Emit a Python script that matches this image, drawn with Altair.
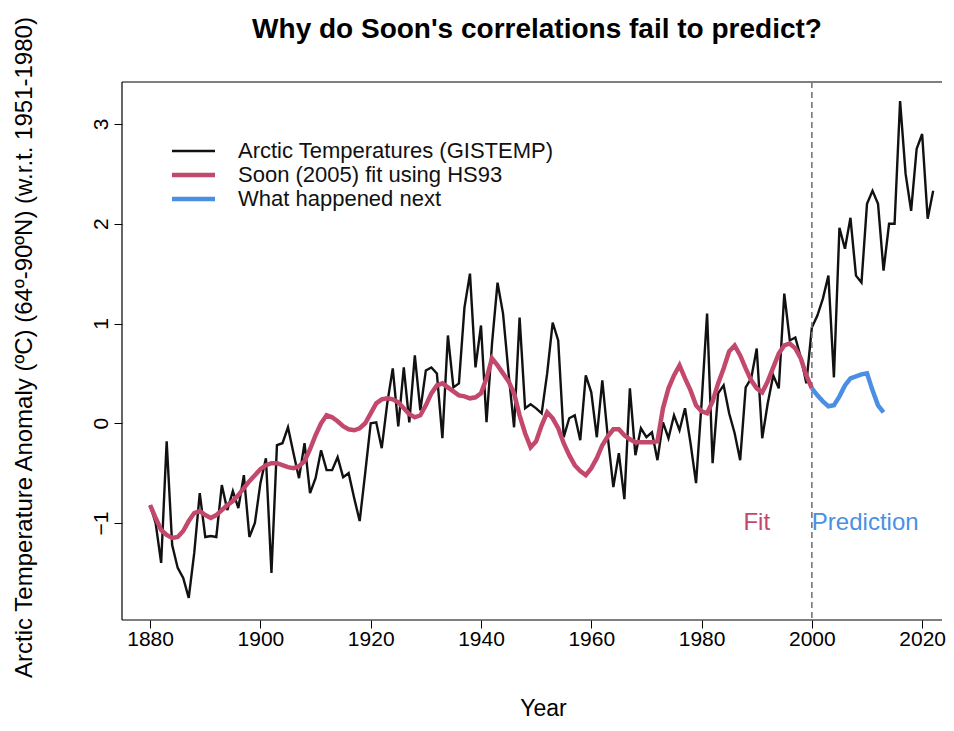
import altair as alt
import pandas as pd

# ---------------- data ----------------
years_obs = list(range(1880, 2023))
arctic_temp = [
    -0.82, -1.00, -1.40, -0.18, -1.22, -1.45, -1.55, -1.75, -1.30, -0.70,   # 1880-1889
    -1.14, -1.13, -1.14, -0.62, -0.87, -0.68, -0.85, -0.52, -1.14, -1.00,   # 1890-1899
    -0.60, -0.35, -1.50, -0.22, -0.20, -0.04, -0.30, -0.55, -0.20, -0.70,   # 1900-1909
    -0.55, -0.27, -0.47, -0.47, -0.34, -0.54, -0.50, -0.75, -0.98, -0.50,   # 1910-1919
     0.00,  0.01, -0.25,  0.20,  0.55, -0.03,  0.56,  0.01,  0.68,  0.13,   # 1920-1929
     0.53,  0.56,  0.50, -0.15,  0.88,  0.36,  0.40,  1.16,  1.50,  0.56,   # 1930-1939
     0.98,  0.01,  0.80,  1.41,  1.10,  0.50, -0.04,  1.06,  0.15,  0.19,   # 1940-1949
     0.15,  0.10,  0.50,  1.01,  0.83, -0.14,  0.05,  0.08, -0.17,  0.48,   # 1950-1959
     0.31, -0.14,  0.43, -0.14, -0.64, -0.30, -0.76,  0.35, -0.32, -0.05,   # 1960-1969
    -0.14, -0.09, -0.37,  0.01, -0.15,  0.08, -0.07,  0.15, -0.20, -0.60,   # 1970-1979
     0.20,  1.10, -0.40,  0.30,  0.38,  0.10, -0.10, -0.37,  0.36,  0.45,   # 1980-1989
     0.75, -0.15,  0.20,  0.48,  0.35,  1.30,  0.83,  0.86,  0.66,  0.40,   # 1990-1999
     0.96,  1.08,  1.25,  1.48,  0.46,  1.96,  1.75,  2.06,  1.48,  1.41,   # 2000-2009
     2.20,  2.33,  2.20,  1.53,  2.00,  2.00,  3.23,  2.50,  2.13,  2.75,   # 2010-2019
     2.90,  2.05,  2.33,                                                    # 2020-2022
]

years_fit = list(range(1880, 2001))
soon_fit = [
    -0.82, -0.95, -1.07, -1.12, -1.15, -1.14, -1.08, -0.98, -0.90, -0.88,   # 1880-1889
    -0.92, -0.95, -0.92, -0.87, -0.82, -0.78, -0.72, -0.65, -0.58, -0.52,   # 1890-1899
    -0.46, -0.42, -0.40, -0.40, -0.42, -0.44, -0.45, -0.43, -0.38, -0.26,   # 1900-1909
    -0.12,  0.00,  0.08,  0.06,  0.02, -0.03, -0.06, -0.07, -0.05,  0.00,   # 1910-1919
     0.10,  0.20,  0.24,  0.25,  0.24,  0.21,  0.15,  0.09,  0.06,  0.08,   # 1920-1929
     0.18,  0.30,  0.38,  0.40,  0.36,  0.32,  0.28,  0.27,  0.25,  0.26,   # 1930-1939
     0.30,  0.45,  0.65,  0.58,  0.50,  0.42,  0.30,  0.08, -0.10, -0.24,   # 1940-1949
    -0.18, -0.02,  0.11,  0.05, -0.05, -0.20, -0.32, -0.42, -0.48, -0.52,   # 1950-1959
    -0.45, -0.35, -0.22, -0.13, -0.06, -0.06, -0.12, -0.16, -0.19, -0.19,   # 1960-1969
    -0.19, -0.19, -0.18,  0.15,  0.35,  0.48,  0.58,  0.45,  0.33,  0.18,   # 1970-1979
     0.12,  0.10,  0.22,  0.40,  0.55,  0.72,  0.78,  0.68,  0.55,  0.43,   # 1980-1989
     0.35,  0.31,  0.42,  0.56,  0.70,  0.78,  0.80,  0.75,  0.65,  0.48,   # 1990-1999
     0.35,                                                                  # 2000
]

years_next = list(range(2000, 2014))
what_next = [0.35, 0.28, 0.22, 0.17, 0.18, 0.27, 0.38, 0.45, 0.47, 0.49,
             0.50, 0.33, 0.18, 0.11]

chart_title = "Why do Soon's correlations fail to predict?"
legend_labels = ["Arctic Temperatures (GISTEMP)", "Soon (2005) fit using HS93",
                 "What happened next"]
x_ticks = [1880, 1900, 1920, 1940, 1960, 1980, 2000, 2020]
y_ticks = [-1, 0, 1, 2, 3]
split_year = [2000]
annot_x = [1990, 2000]
annot_y = [-1.0, -1.0]
annot_text = ["Fit", "Prediction"]

# ---------------- style ----------------
FONT = "Liberation Sans"
BLACK = "#111111"
PINK = "#c3496c"
BLUE = "#4a8fe4"
W, H = 820, 538

xscale = alt.Scale(domain=[1874.9, 2023.6], nice=False, zero=False)
yscale = alt.Scale(domain=[-1.972, 3.421], nice=False, zero=False)

df_obs = pd.DataFrame({"year": years_obs, "value": arctic_temp})
df_fit = pd.DataFrame({"year": years_fit, "value": soon_fit})
df_next = pd.DataFrame({"year": years_next, "value": what_next})

xaxis = alt.Axis(values=x_ticks, format="d", grid=False, domain=False,
                 tickSize=8, tickColor="black", tickWidth=1,
                 labelFont=FONT, labelFontSize=21, labelColor="black",
                 labelPadding=0, labelBaseline="top",
                 title="Year", titleFont=FONT, titleFontSize=23,
                 titleFontWeight="normal", titleColor="black",
                 titleX=421, titleY=88, titleBaseline="middle", titleAlign="center")
yaxis = alt.Axis(values=y_ticks, format="d", grid=False, domain=False,
                 tickSize=8, tickColor="black", tickWidth=1,
                 labelFont=FONT, labelFontSize=21, labelColor="black",
                 labelAngle=270, labelAlign="center", labelBaseline="bottom",
                 labelPadding=3,
                 title="Arctic Temperature Anomaly (ºC) (64º-90ºN) (w.r.t. 1951-1980)",
                 titleFont=FONT, titleFontSize=24, titleFontWeight="normal",
                 titleColor="black", titleAngle=270, titleX=-98, titleY=265,
                 titleAlign="center", titleBaseline="middle")

X = alt.X("year:Q", scale=xscale)
Y = alt.Y("value:Q", scale=yscale)

black_line = alt.Chart(df_obs).mark_line(color=BLACK, strokeWidth=2.4).encode(
    x=alt.X("year:Q", scale=xscale, axis=xaxis),
    y=alt.Y("value:Q", scale=yscale, axis=yaxis),
)
pink_line = alt.Chart(df_fit).mark_line(color=PINK, strokeWidth=4.5).encode(x=X, y=Y)
blue_line = alt.Chart(df_next).mark_line(color=BLUE, strokeWidth=4.5).encode(x=X, y=Y)

vline = alt.Chart(pd.DataFrame({"year": split_year})).mark_rule(
    color="#777777", strokeWidth=1.6, strokeDash=[6, 4]).encode(
    x=X, y=alt.value(0), y2=alt.value(H),
)

df_ann = pd.DataFrame({"year": annot_x, "value": annot_y, "t": annot_text})
fit_txt = alt.Chart(df_ann.iloc[[0]]).mark_text(
    font=FONT, fontSize=24, color=PINK, align="center", baseline="middle").encode(
    x=X, y=Y, text="t:N")
pred_txt = alt.Chart(df_ann.iloc[[1]]).mark_text(
    font=FONT, fontSize=24, color=BLUE, align="left", baseline="middle").encode(
    x=X, y=Y, text="t:N")

# frame (left, top, bottom; the right edge lies outside the picture)
frame_top = alt.Chart().mark_rule(color="black", strokeWidth=1.2).encode(
    x=alt.value(0), x2=alt.value(W), y=alt.value(0))
frame_bot = alt.Chart().mark_rule(color="black", strokeWidth=1.2).encode(
    x=alt.value(0), x2=alt.value(W), y=alt.value(H))
frame_left = alt.Chart().mark_rule(color="black", strokeWidth=1.2).encode(
    x=alt.value(0), y=alt.value(0), y2=alt.value(H))

# chart title as a text mark above the plot
title_txt = alt.Chart().mark_text(
    text=chart_title, font=FONT, fontSize=28, fontWeight="bold", color="black",
    align="center", baseline="middle").encode(x=alt.value(415), y=alt.value(-52))

# manual legend
legend_layers = []
leg_colors = [BLACK, PINK, BLUE]
leg_widths = [2.4, 4.5, 4.5]
leg_rows = [69, 93, 117]
for lab, col, lw, yy in zip(legend_labels, leg_colors, leg_widths, leg_rows):
    legend_layers.append(alt.Chart().mark_rule(color=col, strokeWidth=lw).encode(
        x=alt.value(50), x2=alt.value(93), y=alt.value(yy)))
    legend_layers.append(alt.Chart().mark_text(
        text=lab, font=FONT, fontSize=22, color="#111111", align="left",
        baseline="middle").encode(x=alt.value(116), y=alt.value(yy)))

chart = alt.layer(
    black_line, frame_top, frame_bot, frame_left, vline, pink_line, blue_line,
    fit_txt, pred_txt, title_txt, *legend_layers,
).properties(
    width=W, height=H,
    autosize=alt.AutoSizeParams(type="none"),
    padding={"left": 114, "top": 74, "right": 4, "bottom": 103},
).configure_view(strokeWidth=0)

chart.save("out.html", embed_options={"renderer": "svg", "actions": False})
